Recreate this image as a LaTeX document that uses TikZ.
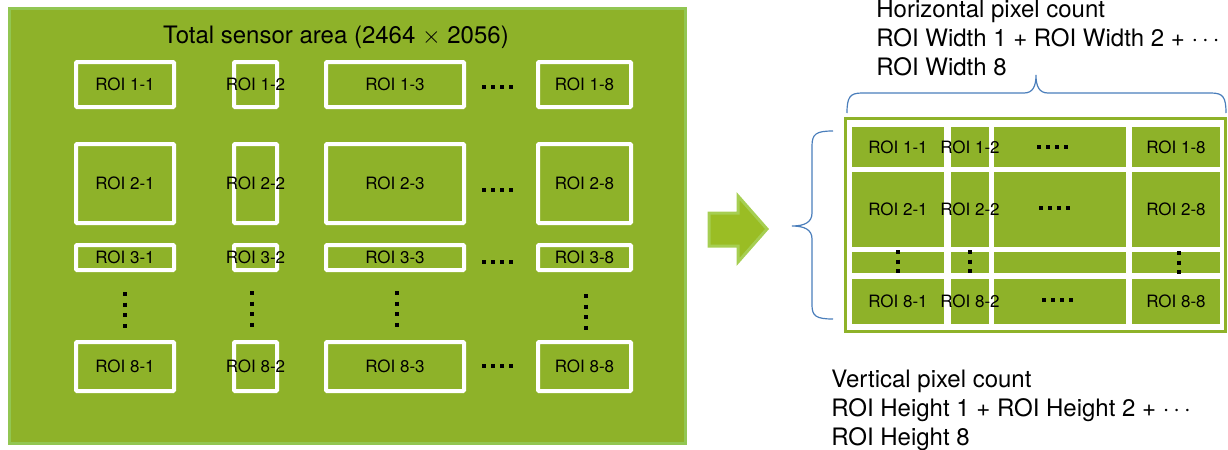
\documentclass[tikz,border=0pt]{standalone}
\usepackage{fontspec}
\setmainfont{TeX Gyre Heros}
\definecolor{roigreen}{RGB}{142,178,41}
\definecolor{edgegreen}{RGB}{146,198,82}
\definecolor{arrowgreen}{RGB}{154,189,36}
\definecolor{arrowedge}{RGB}{166,206,82}
\definecolor{bracecol}{RGB}{74,126,187}
\newcommand{\roifont}{\fontsize{8.5}{10}\selectfont}
\newcommand{\capfont}{\fontsize{12}{14.5}\selectfont}

\begin{document}
\begin{tikzpicture}[x=0.5pt, y=-0.5pt,
  font=\roifont,
  every label/.style={font=\roifont, inner sep=0pt},
  sensor/.style={rectangle, fill=roigreen, draw=edgegreen, line width=1.5pt,
                 inner sep=0pt, minimum width=338pt, minimum height=217.5pt},
  roi/.style={rectangle, draw=white, line width=2pt, inner sep=0pt, rounded corners=0.5pt},
  col1/.style={minimum width=49pt}, col2/.style={minimum width=21.5pt},
  col3/.style={minimum width=69pt}, col8/.style={minimum width=46.5pt},
  row1/.style={minimum height=22.5pt}, row2/.style={minimum height=39.5pt},
  row3/.style={minimum height=12.5pt}, row8/.style={minimum height=24.5pt},
  panel/.style={rectangle, fill=white, draw=roigreen, line width=1.5pt,
                inner sep=0pt, minimum width=190pt, minimum height=106.5pt},
  cell/.style={rectangle, fill=roigreen, inner sep=0pt},
  pc1/.style={minimum width=46pt}, pc2/.style={minimum width=19pt},
  pc3/.style={minimum width=66pt}, pc8/.style={minimum width=44pt},
  ph1/.style={minimum height=20pt}, ph2/.style={minimum height=37.5pt},
  ph3/.style={minimum height=10.5pt}, ph8/.style={minimum height=22.5pt},
  rowdots/.style={line width=2pt, dash pattern=on 2pt off 2.5pt},
  coldots/.style={line width=2pt, dash pattern=on 2pt off 3.33pt},
  celldots/.style={line width=2pt, dash pattern=on 2pt off 2.75pt},
  brace/.style={draw=bracecol, line width=0.6pt},
  note/.style={anchor=north west, align=left, inner sep=0pt, font=\capfont}
]
\useasboundingbox (0,0) rectangle (1228,450);

% sensor with its ROIs
\node[sensor] (sensor) at (347.5,226) {};
\node[anchor=base, inner sep=0pt, font=\capfont] (title) at (336,43.5) {Total sensor area (2464 $\times$ 2056)};

\node[roi, col1, row1, label=center:ROI 1-1] (r11) at (125,84.5) {};
\node[roi, col2, row1, label=center:ROI 1-2] (r12) at (255.5,84.5) {};
\node[roi, col3, row1, label=center:ROI 1-3] (r13) at (395,84.5) {};
\node[roi, col8, row1, label=center:ROI 1-8] (r18) at (584.5,84.5) {};
\node[roi, col1, row2, label=center:ROI 2-1] (r21) at (125,183.5) {};
\node[roi, col2, row2, label=center:ROI 2-2] (r22) at (255.5,183.5) {};
\node[roi, col3, row2, label=center:ROI 2-3] (r23) at (395,183.5) {};
\node[roi, col8, row2, label=center:ROI 2-8] (r28) at (584.5,183.5) {};
\node[roi, col1, row3, label=center:ROI 3-1] (r31) at (125,257.5) {};
\node[roi, col2, row3, label=center:ROI 3-2] (r32) at (255.5,257.5) {};
\node[roi, col3, row3, label=center:ROI 3-3] (r33) at (395,257.5) {};
\node[roi, col8, row3, label=center:ROI 3-8] (r38) at (584.5,257.5) {};
\node[roi, col1, row8, label=center:ROI 8-1] (r81) at (125,366.5) {};
\node[roi, col2, row8, label=center:ROI 8-2] (r82) at (255.5,366.5) {};
\node[roi, col3, row8, label=center:ROI 8-3] (r83) at (395,366.5) {};
\node[roi, col8, row8, label=center:ROI 8-8] (r88) at (584.5,366.5) {};

\draw[rowdots] (482,87) -- (515,87);
\draw[rowdots] (482,190) -- (515,190);
\draw[rowdots] (482,262) -- (515,262);
\draw[rowdots] (482,366) -- (515,366);
\draw[coldots] (125,292) -- (125,328);
\draw[coldots] (252,291) -- (252,327);
\draw[coldots] (397,291) -- (397,327);
\draw[coldots] (586,294) -- (586,330);

% arrow
\draw[fill=arrowgreen, draw=arrowedge, line width=1.5pt, line join=miter]
  (709,213) -- (738,213) -- (738,196) -- (767,229) -- (738,262) -- (738,246) -- (709,246) -- cycle;

% packed output image (middle column first, so the labels stay on top)
\node[panel] (panel) at (1035.5,225) {};

\node[cell, pc3, ph1] (c13) at (1060,147) {};
\node[cell, pc1, ph1, label=center:ROI 1-1] (c11) at (898,147) {};
\node[cell, pc2, ph1, label=center:ROI 1-2] (c12) at (970,147) {};
\node[cell, pc8, ph1, label=center:ROI 1-8] (c18) at (1176,147) {};
\node[cell, pc3, ph2] (c23) at (1060,209.5) {};
\node[cell, pc1, ph2, label=center:ROI 2-1] (c21) at (898,209.5) {};
\node[cell, pc2, ph2, label=center:ROI 2-2] (c22) at (970,209.5) {};
\node[cell, pc8, ph2, label=center:ROI 2-8] (c28) at (1176,209.5) {};
\node[cell, pc1, ph3] (c31) at (898,262.5) {};
\node[cell, pc2, ph3] (c32) at (970,262.5) {};
\node[cell, pc3, ph3] (c33) at (1060,262.5) {};
\node[cell, pc8, ph3] (c38) at (1176,262.5) {};
\node[cell, pc3, ph8] (c83) at (1060,301.5) {};
\node[cell, pc1, ph8, label=center:ROI 8-1] (c81) at (898,301.5) {};
\node[cell, pc2, ph8, label=center:ROI 8-2] (c82) at (970,301.5) {};
\node[cell, pc8, ph8, label=center:ROI 8-8] (c88) at (1176,301.5) {};

\draw[rowdots] (1037,147) -- (1071,147);
\draw[rowdots] (1039,208) -- (1073,208);
\draw[rowdots] (1042,300) -- (1076,300);
\draw[celldots] (898,250) -- (898,273);
\draw[celldots] (970,250) -- (970,273);
\draw[celldots] (1179,251) -- (1179,274);

% braces and counts
\coordinate (hb1) at (847,113);
\coordinate (hb2) at (1226,113);
\coordinate (vb1) at (833,131);
\coordinate (vb2) at (833,319);
\draw[brace] (hb1) .. controls (847,97) and (850,93) .. (862,93) -- (1024,93)
  .. controls (1033,93) and (1036,86) .. (1036,75)
  .. controls (1036,86) and (1039,93) .. (1048,93) -- (1211,93)
  .. controls (1223,93) and (1226,97) .. (hb2);
\draw[brace] (vb1) .. controls (816,131) and (812,134) .. (812,146) -- (812,213)
  .. controls (812,222) and (805,226) .. (792,226)
  .. controls (805,226) and (812,230) .. (812,239) -- (812,305)
  .. controls (812,316) and (816,319) .. (vb2);

\node[note] (hcount) at (876,0) {Horizontal pixel count\\ROI Width 1 + ROI Width 2 + $\cdots$\\ROI Width 8};
\node[note] (vcount) at (831,370) {Vertical pixel count\\ROI Height 1 + ROI Height 2 + $\cdots$\\ROI Height 8};
\end{tikzpicture}
\end{document}
